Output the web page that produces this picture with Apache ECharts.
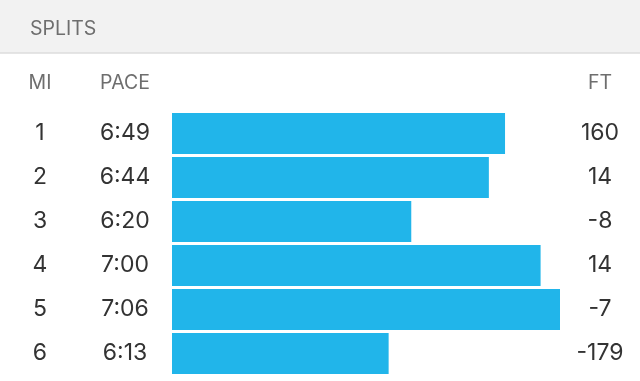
<!DOCTYPE html>
<html>
<head>
<meta charset="utf-8">
<style>
  html, body { margin: 0; padding: 0; background: #ffffff; }
  #chart { width: 640px; height: 381px; }
</style>
<script src="https://cdn.jsdelivr.net/npm/echarts@6/dist/echarts.min.js"></script>
</head>
<body>
<div id="chart"></div>
<script>
// ---- data ----
const miles = ['1', '2', '3', '4', '5', '6'];
const paces = ['6:49', '6:44', '6:20', '7:00', '7:06', '6:13'];
const elevationFt = [160, 14, -8, 14, -7, -179];
const columnHeaders = ['MI', 'PACE', 'FT'];
const sectionTitle = 'SPLITS';

function paceToSeconds(p) {
  const parts = p.split(':');
  return parseInt(parts[0], 10) * 60 + parseInt(parts[1], 10);
}
const paceSeconds = paces.map(paceToSeconds);

const FONT = 'Inter, "Noto Sans", sans-serif';
const valueStyle = { color: '#333333', fontSize: 23, fontFamily: FONT };
const headStyle = { fill: '#6e6e6e', fontSize: 19.5, fontFamily: FONT };

const chart = echarts.init(document.getElementById('chart'), null, { renderer: 'canvas' });

const option = {
  backgroundColor: '#ffffff',
  animation: false,
  grid: { left: 172, right: 80, top: 111.5, bottom: 5.5, containLabel: false },
  xAxis: {
    type: 'value', min: 306, max: 426,
    show: false, splitLine: { show: false }
  },
  yAxis: [
    {
      type: 'category', data: miles, inverse: true, position: 'left',
      axisLine: { show: false }, axisTick: { show: false }, splitLine: { show: false },
      axisLabel: Object.assign({ margin: 132, align: 'center' }, valueStyle)
    },
    {
      type: 'category', data: paces, inverse: true, position: 'left',
      axisLine: { show: false }, axisTick: { show: false }, splitLine: { show: false },
      axisLabel: Object.assign({ margin: 47, align: 'center' }, valueStyle)
    },
    {
      type: 'category', data: elevationFt.map(String), inverse: true, position: 'right',
      axisLine: { show: false }, axisTick: { show: false }, splitLine: { show: false },
      axisLabel: Object.assign({ margin: 40, align: 'center' }, valueStyle)
    }
  ],
  series: [{
    type: 'bar',
    yAxisIndex: 0,
    data: paceSeconds,
    barWidth: 41,
    itemStyle: { color: '#21b5ea' },
    silent: true
  }],
  graphic: [
    { type: 'rect', shape: { x: 0, y: 0, width: 640, height: 52.5 }, style: { fill: '#f2f2f2' }, silent: true },
    { type: 'line', shape: { x1: 0, y1: 53, x2: 640, y2: 53 }, style: { stroke: '#cccccc', lineWidth: 1 }, silent: true },
    { type: 'text', x: 30, y: 29, style: Object.assign({ text: sectionTitle, textAlign: 'left', textVerticalAlign: 'middle' }, headStyle) },
    { type: 'text', x: 40, y: 83, style: Object.assign({ text: columnHeaders[0], textAlign: 'center', textVerticalAlign: 'middle' }, headStyle) },
    { type: 'text', x: 125, y: 83, style: Object.assign({ text: columnHeaders[1], textAlign: 'center', textVerticalAlign: 'middle' }, headStyle) },
    { type: 'text', x: 600, y: 83, style: Object.assign({ text: columnHeaders[2], textAlign: 'center', textVerticalAlign: 'middle' }, headStyle) }
  ]
};
chart.setOption(option);
</script>
</body>
</html>
